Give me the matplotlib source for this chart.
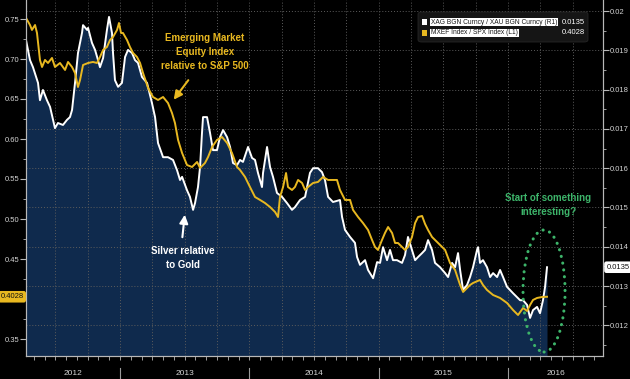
import numpy as np
import matplotlib
matplotlib.use('Agg')
import matplotlib.pyplot as plt
from matplotlib import font_manager, ticker, transforms
from matplotlib.patches import Ellipse, FancyBboxPatch, Rectangle

# ---------------------------- DATA (fractional years) ----------------------------
# XAG / XAU ratio (right axis, R1)
silver_t = [2012.273, 2012.304, 2012.327, 2012.366, 2012.381, 2012.404, 2012.435, 2012.459, 2012.482, 2012.497,
            2012.520, 2012.559, 2012.590, 2012.613, 2012.629, 2012.652, 2012.675, 2012.706, 2012.714, 2012.745,
            2012.753, 2012.783, 2012.807, 2012.830, 2012.845, 2012.869, 2012.899, 2012.915, 2012.938, 2012.946,
            2012.961, 2012.985, 2013.015, 2013.039, 2013.062, 2013.093, 2013.116, 2013.139, 2013.170, 2013.209,
            2013.247, 2013.271, 2013.294, 2013.333, 2013.371, 2013.410, 2013.441, 2013.464, 2013.480, 2013.518,
            2013.541, 2013.565, 2013.580, 2013.603, 2013.619, 2013.634, 2013.642, 2013.673, 2013.696, 2013.719,
            2013.750, 2013.773, 2013.797, 2013.828, 2013.851, 2013.874, 2013.905, 2013.928, 2013.951, 2013.990,
            2014.021, 2014.044, 2014.067, 2014.098, 2014.106, 2014.137, 2014.160, 2014.183, 2014.214, 2014.253,
            2014.292, 2014.330, 2014.353, 2014.392, 2014.431, 2014.469, 2014.493, 2014.531, 2014.562, 2014.585,
            2014.609, 2014.647, 2014.701, 2014.717, 2014.740, 2014.779, 2014.817, 2014.833, 2014.856, 2014.895,
            2014.918, 2014.957, 2014.988, 2015.011, 2015.034, 2015.065, 2015.088, 2015.111, 2015.142, 2015.181,
            2015.204, 2015.227, 2015.258, 2015.282, 2015.305, 2015.336, 2015.359, 2015.382, 2015.413, 2015.436,
            2015.475, 2015.514, 2015.537, 2015.568, 2015.591, 2015.614, 2015.630, 2015.653, 2015.684, 2015.707,
            2015.730, 2015.761, 2015.769, 2015.784, 2015.807, 2015.838, 2015.862, 2015.885, 2015.916, 2015.939,
            2015.962, 2015.993, 2016.016, 2016.039, 2016.070, 2016.094, 2016.117, 2016.148, 2016.171, 2016.194,
            2016.225, 2016.248, 2016.271, 2016.287, 2016.302]
silver_v = [0.01926, 0.01875, 0.01857, 0.01817, 0.01773, 0.01799, 0.01773, 0.01756, 0.01723, 0.01702,
            0.01715, 0.01710, 0.01723, 0.01730, 0.01748, 0.01817, 0.01893, 0.01944, 0.01964, 0.01952,
            0.01957, 0.01919, 0.01901, 0.01875, 0.01857, 0.01880, 0.01952, 0.01985, 0.01944, 0.01893,
            0.01824, 0.01807, 0.01817, 0.01883, 0.01901, 0.01893, 0.01875, 0.01868, 0.01832, 0.01817,
            0.01766, 0.01730, 0.01664, 0.01628, 0.01628, 0.01621, 0.01595, 0.01570, 0.01578, 0.01544,
            0.01527, 0.01494, 0.01511, 0.01552, 0.01603, 0.01690, 0.01730, 0.01730, 0.01690, 0.01646,
            0.01646, 0.01679, 0.01697, 0.01679, 0.01654, 0.01613, 0.01608, 0.01621, 0.01616, 0.01654,
            0.01626, 0.01621, 0.01588, 0.01552, 0.01588, 0.01654, 0.01603, 0.01578, 0.01537, 0.01527,
            0.01511, 0.01494, 0.01501, 0.01519, 0.01527, 0.01588, 0.01600, 0.01600, 0.01590, 0.01570,
            0.01527, 0.01514, 0.01519, 0.01476, 0.01443, 0.01425, 0.01410, 0.01374, 0.01354, 0.01366,
            0.01341, 0.01320, 0.01361, 0.01359, 0.01399, 0.01366, 0.01392, 0.01366, 0.01366, 0.01359,
            0.01379, 0.01425, 0.01392, 0.01366, 0.01374, 0.01384, 0.01392, 0.01417, 0.01392, 0.01359,
            0.01348, 0.01333, 0.01323, 0.01359, 0.01348, 0.01384, 0.01341, 0.01290, 0.01303, 0.01323,
            0.01348, 0.01392, 0.01399, 0.01359, 0.01366, 0.01348, 0.01323, 0.01333, 0.01323, 0.01341,
            0.01323, 0.01298, 0.01290, 0.01282, 0.01272, 0.01264, 0.01264, 0.01252, 0.01219, 0.01239,
            0.01247, 0.01231, 0.01264, 0.01298, 0.01348]

# MXEF / SPX ratio (left axis, L1)
em_t = [2012.273, 2012.304, 2012.319, 2012.343, 2012.358, 2012.381, 2012.397, 2012.420, 2012.443, 2012.474,
        2012.497, 2012.536, 2012.575, 2012.598, 2012.629, 2012.652, 2012.675, 2012.691, 2012.714, 2012.753,
        2012.791, 2012.822, 2012.845, 2012.869, 2012.899, 2012.923, 2012.946, 2012.977, 2012.992, 2013.008,
        2013.023, 2013.054, 2013.077, 2013.101, 2013.131, 2013.155, 2013.178, 2013.217, 2013.255, 2013.294,
        2013.333, 2013.371, 2013.402, 2013.425, 2013.449, 2013.480, 2013.518, 2013.557, 2013.596, 2013.619,
        2013.657, 2013.681, 2013.712, 2013.750, 2013.789, 2013.828, 2013.866, 2013.905, 2013.928, 2013.967,
        2014.005, 2014.044, 2014.083, 2014.121, 2014.160, 2014.199, 2014.222, 2014.237, 2014.261, 2014.284,
        2014.299, 2014.330, 2014.353, 2014.377, 2014.408, 2014.431, 2014.454, 2014.493, 2014.531, 2014.570,
        2014.609, 2014.647, 2014.678, 2014.701, 2014.740, 2014.779, 2014.802, 2014.841, 2014.879, 2014.918,
        2014.949, 2014.972, 2014.995, 2015.026, 2015.049, 2015.073, 2015.104, 2015.127, 2015.150, 2015.181,
        2015.204, 2015.227, 2015.258, 2015.282, 2015.305, 2015.336, 2015.359, 2015.382, 2015.413, 2015.436,
        2015.475, 2015.514, 2015.552, 2015.591, 2015.630, 2015.653, 2015.684, 2015.707, 2015.730, 2015.784,
        2015.807, 2015.838, 2015.885, 2015.939, 2015.993, 2016.039, 2016.078, 2016.117, 2016.148, 2016.171,
        2016.194, 2016.225, 2016.264, 2016.302]
em_v = [0.7513, 0.7425, 0.7363, 0.7425, 0.7325, 0.6988, 0.6900, 0.6988, 0.6950, 0.7013,
        0.6900, 0.6950, 0.6863, 0.6963, 0.6900, 0.6825, 0.6650, 0.6738, 0.6925, 0.6950,
        0.6963, 0.6950, 0.7025, 0.7113, 0.7150, 0.7238, 0.7275, 0.7363, 0.7450, 0.7325,
        0.7325, 0.7238, 0.7150, 0.7075, 0.7025, 0.6950, 0.6825, 0.6638, 0.6525, 0.6488,
        0.6525, 0.6450, 0.6325, 0.6200, 0.5988, 0.5825, 0.5675, 0.5650, 0.5713, 0.5638,
        0.5700, 0.5775, 0.5900, 0.5988, 0.6025, 0.5950, 0.5825, 0.5650, 0.5613, 0.5525,
        0.5400, 0.5275, 0.5238, 0.5200, 0.5150, 0.5088, 0.5025, 0.5275, 0.5400, 0.5575,
        0.5400, 0.5363, 0.5400, 0.5488, 0.5450, 0.5363, 0.5400, 0.5450, 0.5463, 0.5525,
        0.5488, 0.5488, 0.5488, 0.5363, 0.5238, 0.5238, 0.5113, 0.5025, 0.4950, 0.4863,
        0.4738, 0.4650, 0.4613, 0.4738, 0.4825, 0.4900, 0.4825, 0.4700, 0.4700, 0.4650,
        0.4613, 0.4650, 0.4775, 0.4950, 0.5025, 0.5038, 0.4938, 0.4863, 0.4775, 0.4738,
        0.4675, 0.4613, 0.4450, 0.4363, 0.4175, 0.4088, 0.4138, 0.4175, 0.4200, 0.4238,
        0.4175, 0.4113, 0.4050, 0.4013, 0.3950, 0.3863, 0.3800, 0.3888, 0.3850, 0.3925,
        0.3988, 0.4013, 0.4025, 0.4028]

left_ticks = [0.35, 0.40, 0.45, 0.50, 0.55, 0.60, 0.65, 0.70, 0.75]
right_ticks = [0.012, 0.013, 0.014, 0.015, 0.016, 0.017, 0.018, 0.019, 0.020]
years = [2012, 2013, 2014, 2015, 2016]

silver_name = 'XAG BGN Curncy / XAU BGN Curncy (R1)'
em_name = 'MXEF Index / SPX Index (L1)'

# ---------------------------- STYLE ----------------------------
names = {f.name for f in font_manager.fontManager.ttflist}
NARROW = 'Liberation Sans Narrow' if 'Liberation Sans Narrow' in names else 'Liberation Sans'
plt.rcParams['font.family'] = [NARROW, 'DejaVu Sans']

NAVY = '#0f2a4d'
YELLOW = '#e8b820'
GREEN = '#3db46a'
GRID = '#5c5c5c'
LABEL = '#d4d4d4'

XLIM = (2012.273, 2016.735)
LLIM = (0.32875, 0.77375)
RLIM = (0.011221, 0.020280)

fig = plt.figure(figsize=(6.3, 3.79), dpi=100, facecolor='black')
ax = fig.add_axes([26 / 630, 23 / 379, 577 / 630, 356 / 379])
ax2 = ax.twinx()
ax.set_zorder(ax2.get_zorder() + 1)
ax.patch.set_visible(False)
ax2.patch.set_visible(False)

ax.set_xlim(XLIM)
ax.set_ylim(LLIM)
ax2.set_ylim(RLIM)

# ---------------------------- SERIES ----------------------------
ax2.fill_between(silver_t, silver_v, RLIM[0], color=NAVY, linewidth=0, zorder=0.3)
ax2.plot(silver_t, silver_v, color='white', linewidth=1.4, zorder=2)
ax.plot(em_t, em_v, color=YELLOW, linewidth=1.4, zorder=2)

# grid
ax2.set_axisbelow(True)
ax2.yaxis.grid(True, color=GRID, linestyle=(0, (1, 2)), linewidth=0.7)
for q in np.arange(2012.5, XLIM[1], 0.25):
    ax2.axvline(q, color=GRID, linestyle=(0, (1, 2)), linewidth=0.7, zorder=0.5)

# ---------------------------- AXES ----------------------------
for a in (ax, ax2):
    a.spines['top'].set_visible(False)
    for s in ('left', 'right', 'bottom'):
        a.spines[s].set_color('#b8b8b8')
        a.spines[s].set_linewidth(0.8)

# the 0.40 label sits under the value tag, so it is left blank
ax.set_yticks(left_ticks)
ax.yaxis.set_minor_locator(ticker.MultipleLocator(0.025))
ax.yaxis.set_major_formatter(ticker.FuncFormatter(lambda v, p: '' if abs(v - 0.40) < 1e-6 else '%.2f' % v))
ax2.set_yticks(right_ticks)
ax2.yaxis.set_minor_locator(ticker.MultipleLocator(0.0005))
ax2.yaxis.set_major_formatter(ticker.FuncFormatter(lambda v, p: '%g' % v))

ax.tick_params(axis='y', which='major', length=4, width=0.8, color='#b8b8b8', labelsize=5.5, labelcolor=LABEL, pad=1)
ax.tick_params(axis='y', which='minor', length=2, width=0.6, color='#b8b8b8')
ax2.tick_params(axis='y', which='major', length=4, width=0.8, color='#b8b8b8', labelsize=5.5, labelcolor=LABEL, pad=1)
ax2.tick_params(axis='y', which='minor', length=2, width=0.6, color='#b8b8b8')

ax.set_xticks([])
ax.xaxis.set_minor_locator(ticker.FixedLocator(np.arange(2012 + 4 / 12, XLIM[1], 1 / 12)))
ax.tick_params(axis='x', which='minor', length=3, width=0.6, color='#b8b8b8')

bx = transforms.blended_transform_factory(ax.transData, ax.transAxes)
for yr in years[1:]:
    ax.plot([yr, yr], [-0.035, -0.07], transform=bx, clip_on=False, color='#9a9a9a', linewidth=0.8)
for yr in years:
    lo = max(yr, XLIM[0])
    hi = min(yr + 1, XLIM[1])
    ax.text((lo + hi) / 2, -0.048, str(yr), transform=bx, ha='center', va='center',
            fontsize=6, color=LABEL)

# value tags on both axes
by_l = transforms.blended_transform_factory(ax.transAxes, ax.transData)
ax.text(-0.004, em_v[-1], '%.4f' % em_v[-1], transform=by_l, ha='right', va='center', fontsize=5.5,
        color='#111111', bbox=dict(boxstyle='round,pad=0.3,rounding_size=0.3', facecolor=YELLOW, edgecolor='none'),
        clip_on=False, zorder=5)
by_r = transforms.blended_transform_factory(ax2.transAxes, ax2.transData)
ax2.text(1.006, silver_v[-1], '%.4f' % silver_v[-1], transform=by_r, ha='left', va='center', fontsize=5.5,
         color='#111111', bbox=dict(boxstyle='round,pad=0.3,rounding_size=0.3', facecolor='white', edgecolor='none'),
         clip_on=False, zorder=5)

# ---------------------------- ANNOTATIONS ----------------------------
ax.text(2013.657, 0.7088, 'Emerging Market\nEquity Index\nrelative to S&P 500', ha='center', va='center',
        fontsize=7, fontweight='bold', color=YELLOW, linespacing=1.55)
ax.annotate('', xy=(2013.402, 0.6463), xytext=(2013.541, 0.6763),
            arrowprops=dict(arrowstyle='-|>,head_length=0.5,head_width=0.25', color=YELLOW, linewidth=1.5))

ax.text(2013.487, 0.4513, 'Silver relative\nto Gold', ha='center', va='center',
        fontsize=7, fontweight='bold', color='white', linespacing=1.55)
ax.annotate('', xy=(2013.503, 0.5088), xytext=(2013.480, 0.4738),
            arrowprops=dict(arrowstyle='-|>,head_length=0.5,head_width=0.25', color='white', linewidth=1.5))

ax.text(2016.310, 0.5175, 'Start of something\ninteresting?', ha='center', va='center',
        fontsize=7, fontweight='bold', color=GREEN, linespacing=1.55)
ax.add_patch(Ellipse((2016.279, 0.41), 0.325, 0.1525, fill=False, edgecolor=GREEN, linewidth=2.2,
                     linestyle=(0, (0.05, 2.2)), capstyle='round', zorder=4))

# ---------------------------- LEGEND ----------------------------
fig.patches.append(FancyBboxPatch((418 / 630, 1 - 42 / 379), 170 / 630, 30 / 379,
                                  boxstyle='round,pad=0,rounding_size=0.006', transform=fig.transFigure,
                                  facecolor='#151515', edgecolor='#262626', linewidth=0.6, zorder=6))
fig.patches.append(Rectangle((422 / 630, 1 - 25 / 379), 5 / 630, 6 / 379, transform=fig.transFigure,
                             facecolor='white', edgecolor='none', zorder=7))
fig.patches.append(Rectangle((422 / 630, 1 - 36 / 379), 5 / 630, 6 / 379, transform=fig.transFigure,
                             facecolor=YELLOW, edgecolor='none', zorder=7))
fig.text(431 / 630, 1 - 22 / 379, silver_name, ha='left', va='center', fontsize=4.8, color='#1a1a1a',
         bbox=dict(boxstyle='square,pad=0.12', facecolor='white', edgecolor='none'), zorder=8)
fig.text(431 / 630, 1 - 33 / 379, em_name, ha='left', va='center', fontsize=4.8, color='#1a1a1a',
         bbox=dict(boxstyle='square,pad=0.12', facecolor='white', edgecolor='none'), zorder=8)
fig.text(585 / 630, 1 - 22 / 379, '%.4f' % silver_v[-1], ha='right', va='center', fontsize=5.5,
         color='white', zorder=8)
fig.text(585 / 630, 1 - 33 / 379, '%.4f' % em_v[-1], ha='right', va='center', fontsize=5.5,
         color='white', zorder=8)

fig.savefig('out.png', dpi=100, facecolor='black')
